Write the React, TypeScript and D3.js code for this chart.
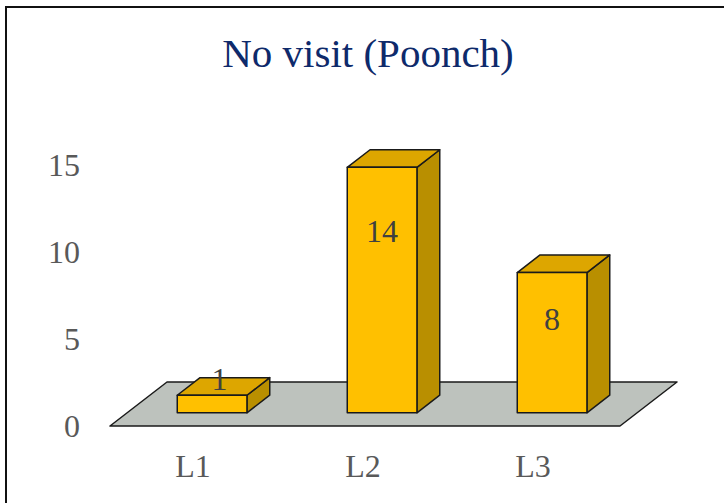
import React from "react";
import * as d3 from "d3";

// Chart data
const categories: string[] = ["L1", "L2", "L3"];
const values: number[] = [1, 14, 8];
const yTicks: number[] = [0, 5, 10, 15];
const title = "No visit (Poonch)";

const W = 724;
const H = 503;

// Floor geometry: front edge and the oblique depth vector
const floorLeft = 110;
const floorRight = 620;
const floorFrontY = 426;
const depthX = 57;
const depthY = -44;
// Bars sit between these fractions of the floor depth
const barFront = 0.3;
const barBack = 0.7;

const colors = {
  front: "#FFC000",
  top: "#DDA600",
  side: "#B98F00",
  floor: "#BDC2BD",
  edge: "#1a1a1a",
  title: "#0E2A6B",
  axis: "#595959",
  label: "#404040",
};

const serif = "'Liberation Serif', 'Times New Roman', serif";

export default function App() {
  const x = d3
    .scaleBand<string>()
    .domain(categories)
    .range([floorLeft, floorRight])
    .paddingInner(0.59)
    .paddingOuter(0.295);

  // Scale for bar heights (measured in the bars' depth plane)
  const y = d3.scaleLinear().domain([0, 15]).range([floorFrontY, 163]);
  const unit = y(0) - y(1);
  // Scale for the value-axis labels on the front plane
  const yAxis = d3.scaleLinear().domain([0, 15]).range([floorFrontY, 165]);

  const floorPts: [number, number][] = [
    [floorLeft, floorFrontY],
    [floorRight, floorFrontY],
    [floorRight + depthX, floorFrontY + depthY],
    [floorLeft + depthX, floorFrontY + depthY],
  ];
  const poly = (pts: [number, number][]) =>
    "M" + pts.map((p) => p.join(",")).join("L") + "Z";

  const fdx = depthX * barFront;
  const fdy = depthY * barFront;
  const bdx = depthX * (barBack - barFront);
  const bdy = depthY * (barBack - barFront);
  const baseY = floorFrontY + fdy;

  return (
    <svg
      width={W}
      height={H}
      style={{ position: "absolute", left: 0, top: 0, background: "#fff" }}
    >
      <rect x={0} y={0} width={W} height={H} fill="#fff" />
      <rect
        x={6}
        y={7}
        width={W + 40}
        height={H + 40}
        fill="none"
        stroke="#111"
        strokeWidth={2}
      />
      <text
        x={368}
        y={67}
        textAnchor="middle"
        fontFamily={serif}
        fontSize={41}
        fill={colors.title}
      >
        {title}
      </text>

      {/* floor */}
      <path
        d={poly(floorPts)}
        fill={colors.floor}
        stroke={colors.edge}
        strokeWidth={1.5}
        strokeLinejoin="round"
      />

      {/* value axis labels */}
      {yTicks.map((t) => (
        <text
          key={t}
          x={80}
          y={yAxis(t)}
          dy="0.35em"
          textAnchor="end"
          fontFamily={serif}
          fontSize={32}
          fill={colors.axis}
        >
          {t}
        </text>
      ))}

      {/* category labels */}
      {categories.map((c) => (
        <text
          key={c}
          x={(x(c) as number) + x.bandwidth() / 2 - 2}
          y={477}
          textAnchor="middle"
          fontFamily={serif}
          fontSize={32}
          fill={colors.axis}
        >
          {c}
        </text>
      ))}

      {/* 3D bars */}
      {categories.map((c, i) => {
        const v = values[i];
        const x0 = (x(c) as number) + fdx;
        const x1 = x0 + x.bandwidth();
        const yb = baseY;
        const yt = baseY - v * unit;
        const h = yb - yt;
        const front: [number, number][] = [
          [x0, yt],
          [x1, yt],
          [x1, yb],
          [x0, yb],
        ];
        const top: [number, number][] = [
          [x0, yt],
          [x0 + bdx, yt + bdy],
          [x1 + bdx, yt + bdy],
          [x1, yt],
        ];
        const side: [number, number][] = [
          [x1, yt],
          [x1 + bdx, yt + bdy],
          [x1 + bdx, yb + bdy],
          [x1, yb],
        ];
        const tall = h > 40;
        const lx = tall ? (x0 + x1) / 2 : (x0 + x1) / 2 + bdx / 2 - 4;
        const ly = tall ? yt + h * 0.17 + 22 : yt - 16;
        return (
          <g key={c}>
            <path d={poly(side)} fill={colors.side} stroke={colors.edge} strokeWidth={1.5} strokeLinejoin="round" />
            <path d={poly(top)} fill={colors.top} stroke={colors.edge} strokeWidth={1.5} strokeLinejoin="round" />
            <path d={poly(front)} fill={colors.front} stroke={colors.edge} strokeWidth={1.5} strokeLinejoin="round" />
            <text
              x={lx}
              y={ly}
              dy="0.35em"
              textAnchor="middle"
              fontFamily={serif}
              fontSize={32}
              fill={colors.label}
            >
              {v}
            </text>
          </g>
        );
      })}
    </svg>
  );
}
